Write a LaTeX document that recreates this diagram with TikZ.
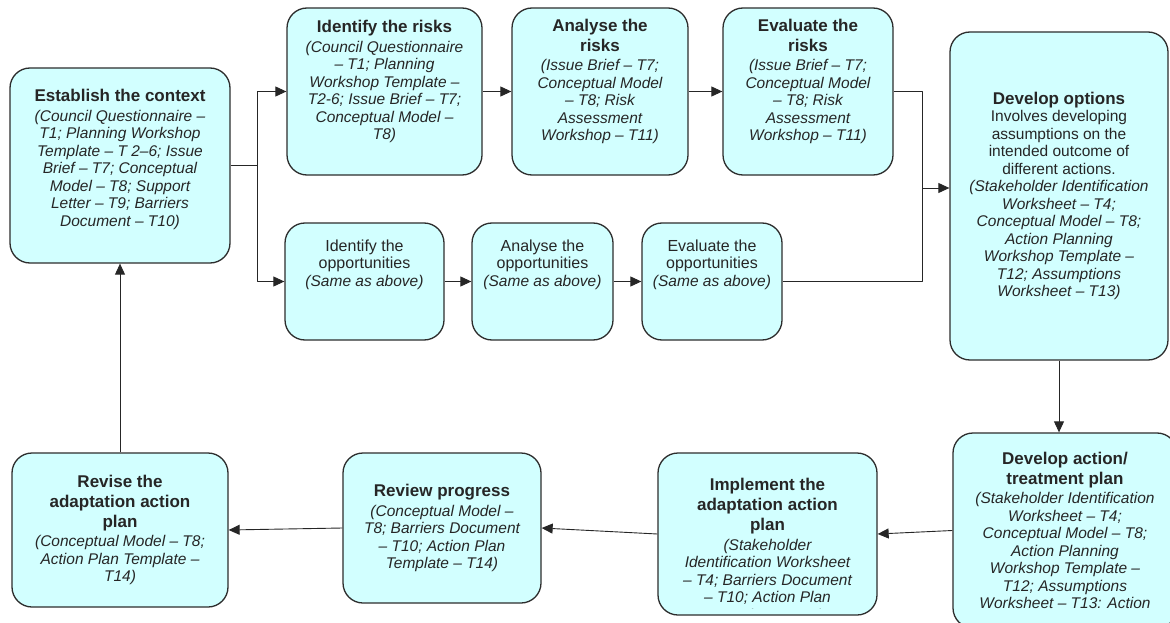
\documentclass[tikz,border=0pt]{standalone}
\usepackage{fontspec}
\setmainfont{Liberation Sans}
\usetikzlibrary{arrows.meta}
\definecolor{boxfill}{RGB}{210,255,255}
\definecolor{boxline}{RGB}{45,45,45}
\newcommand\hd[1]{{\fontsize{17}{20}\selectfont\upshape\bfseries #1}}
\newcommand\up[1]{{\upshape #1}}
\tikzset{
  box/.style={draw=boxline, line width=1.3pt, fill=boxfill, rounded corners=20pt,
    align=center, text=black!85, font=\fontsize{15.5}{17.5}\selectfont\itshape},
  lift/.style={text depth=#1},
  link/.style={line width=0.9pt, draw=black!85}
}
\begin{document}
\begin{tikzpicture}[x=1pt, y=-1pt, >={Triangle[length=11pt,width=10pt]}, line join=round]
\useasboundingbox (0,0) rectangle (1170,623);
\clip (0,0) rectangle (1170,623);
\node[box, minimum width=220, minimum height=195, lift=15] (est) at (120,165.5)
  {\hd{Establish the context}\\[2pt] (Council Questionnaire –\\ T1; Planning Workshop\\ Template – T 2–6; Issue\\ Brief – T7; Conceptual\\ Model – T8; Support\\ Letter – T9; Barriers\\ Document – T10)};
\node[box, minimum width=195, minimum height=167, lift=23] (risk1) at (384.5,91.5)
  {\hd{Identify the risks}\\[2pt] (Council Questionnaire\\ – T1; Planning\\ Workshop Template –\\ T2-6; Issue Brief – T7;\\ Conceptual Model –\\ T8)};
\node[box, minimum width=176, minimum height=167, lift=23] (risk2) at (600,91.5)
  {\hd{Analyse the}\\[2.5pt] \hd{risks}\\[2pt] (Issue Brief – T7;\\ Conceptual Model\\ – T8; Risk\\ Assessment\\ Workshop – T11)};
\node[box, minimum width=170, minimum height=167, lift=23] (risk3) at (808,91.5)
  {\hd{Evaluate the}\\[2.5pt] \hd{risks}\\[2pt] (Issue Brief – T7;\\ Conceptual Model\\ – T8; Risk\\ Assessment\\ Workshop – T11)};
\node[box, minimum width=159, minimum height=117, lift=37] (opp1) at (364.5,281.5)
  {\up{\fontsize{16}{18}\selectfont Identify the}\\ \up{\fontsize{16}{18}\selectfont opportunities}\\ (Same as above)};
\node[box, minimum width=141, minimum height=117, lift=37] (opp2) at (542.5,281.5)
  {\up{\fontsize{16}{18}\selectfont Analyse the}\\ \up{\fontsize{16}{18}\selectfont opportunities}\\ (Same as above)};
\node[box, minimum width=140, minimum height=117, lift=37] (opp3) at (712,281.5)
  {\up{\fontsize{16}{18}\selectfont Evaluate the}\\ \up{\fontsize{16}{18}\selectfont opportunities}\\ (Same as above)};
\node[box, minimum width=218, minimum height=328] (opts) at (1059,196)
  {\hd{Develop options}\\ \up{Involves developing}\\ \up{assumptions on the}\\ \up{intended outcome of}\\ \up{different actions.}\\ (Stakeholder Identification\\ Worksheet – T4;\\ Conceptual Model – T8;\\ Action Planning\\ Workshop Template –\\ T12; Assumptions\\ Worksheet – T13)};
\node[box, minimum width=224, minimum height=195] (act) at (1065,530.5)
  {\hd{Develop action/}\\[2.5pt] \hd{treatment plan}\\[2pt] (Stakeholder Identification\\ Worksheet – T4;\\ Conceptual Model – T8;\\ Action Planning\\ Workshop Template –\\ T12; Assumptions\\ Worksheet – T13: Action};
\node[box, minimum width=219, minimum height=162] (impl) at (767.5,534) {};
\begin{scope}
\clip (impl.north west) rectangle ([yshift=7pt]impl.south east);
\node[align=center, text=black!85, font=\fontsize{15.5}{17.5}\selectfont\itshape] (impltext) at (767.5,551)
  {\hd{Implement the}\\[2.5pt] \hd{adaptation action}\\[2.5pt] \hd{plan}\\[2pt] (Stakeholder\\ Identification Worksheet\\ – T4; Barriers Document\\ – T10; Action Plan\\ Template – T14)};
\end{scope}
\node[box, minimum width=198, minimum height=150] (rev) at (442,528)
  {\hd{Review progress}\\[2pt] (Conceptual Model –\\ T8; Barriers Document\\ – T10; Action Plan\\ Template – T14)};
\node[box, minimum width=216, minimum height=154] (revise) at (120,530)
  {\hd{Revise the}\\[2.5pt] \hd{adaptation action}\\[2.5pt] \hd{plan}\\[2pt] (Conceptual Model – T8;\\ Action Plan Template –\\ T14)};
\coordinate (split) at (257,167);
\coordinate (join) at (922,188);
\draw[link] (est.east) -- (est.east -| split);
\draw[link,->] (est.east -| split) |- (risk1.west);
\draw[link,->] (est.east -| split) |- (opp1.west);
\draw[link,->] (risk1) -- (risk2);
\draw[link,->] (risk2) -- (risk3);
\draw[link,->] (opp1) -- (opp2);
\draw[link,->] (opp2) -- (opp3);
\draw[link] (risk3.east) -| (join);
\draw[link] (opp3.east) -| (join);
\draw[link,->] (join) -- (join -| opts.west);
\draw[link,->] (opts.south) -- (opts.south |- act.north);
\draw[link,->] (act.west) -- (impl.east);
\draw[link,->] (impl.west) -- (rev.east);
\draw[link,->] (rev.west) -- (revise.east);
\draw[link,->] (revise.north) -- (est.south);
\end{tikzpicture}
\end{document}
